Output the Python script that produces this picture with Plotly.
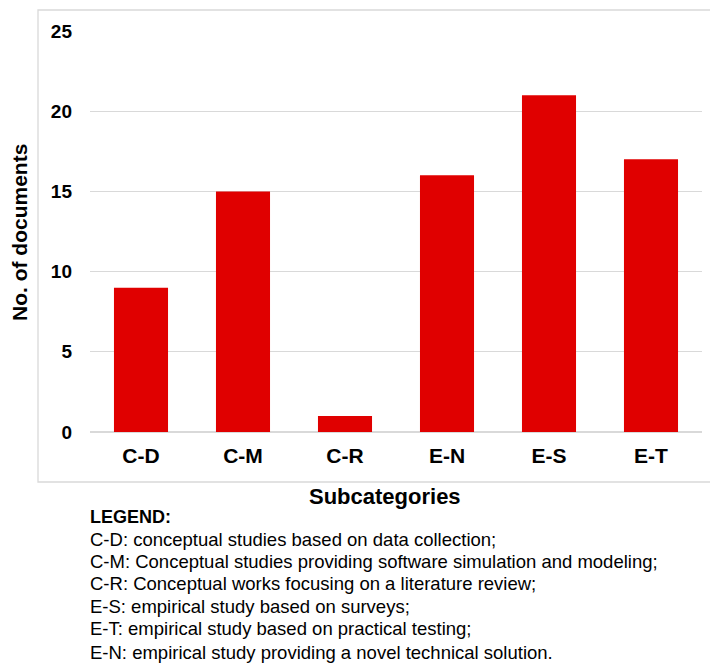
import plotly.graph_objects as go

categories = ["C-D", "C-M", "C-R", "E-N", "E-S", "E-T"]
documents = [9, 15, 1, 16, 21, 17]
y_ticks = [0, 5, 10, 15, 20, 25]
legend_title = "LEGEND:"
legend_lines = [
    "C-D: conceptual studies based on data collection;",
    "C-M: Conceptual studies providing software simulation and modeling;",
    "C-R: Conceptual works focusing on a literature review;",
    "E-S: empirical study based on surveys;",
    "E-T: empirical study based on practical testing;",
    "E-N: empirical study providing a novel technical solution.",
]

W, H = 710, 666
L, R, T, B = 90, 8, 31, 234
PW = W - L - R
PH = H - T - B

def px(x):
    return (x - L) / PW

def py(y):
    return (H - B - y) / PH

FONT = "Liberation Sans, Arial, sans-serif"

fig = go.Figure(
    go.Bar(
        x=categories,
        y=documents,
        marker=dict(color="#e00000", line=dict(width=0)),
        width=0.53,
    )
)

fig.update_layout(
    width=W,
    height=H,
    margin=dict(l=L, r=R, t=T, b=B),
    paper_bgcolor="white",
    plot_bgcolor="white",
    showlegend=False,
    font=dict(family=FONT, color="black"),
)

fig.update_xaxes(
    showline=False,
    showgrid=False,
    ticks="",
    tickfont=dict(size=21, family=FONT, color="black", weight="bold"),
    ticklabelstandoff=9,
)
fig.update_yaxes(
    range=[0, 25],
    tickvals=y_ticks,
    showgrid=True,
    gridcolor="#d9d9d9",
    gridwidth=1.3,
    zeroline=True,
    zerolinecolor="#d9d9d9",
    zerolinewidth=1.5,
    showline=False,
    ticks="",
    tickfont=dict(size=19, family=FONT, color="black", weight="bold"),
    ticklabelstandoff=17,
)

# chart border box
fig.add_shape(
    type="rect", xref="paper", yref="paper",
    x0=px(38), x1=px(715), y0=py(482), y1=py(10),
    line=dict(color="#d9d9d9", width=1.3), fillcolor="rgba(0,0,0,0)",
    layer="below",
)

annotations = [
    dict(text="<b>No. of documents</b>", x=px(20), y=py(233), textangle=-90,
         font=dict(size=21, family=FONT, color="black")),
    dict(text="<b>Subcategories</b>", x=px(385), y=py(496),
         font=dict(size=22, family=FONT, color="black")),
    dict(text="<b>" + legend_title + "</b>", x=px(88), y=py(517), xanchor="left",
         font=dict(size=18, family=FONT, color="black")),
]
legend_y = [539, 561, 583, 606, 628, 652]
for line, yy in zip(legend_lines, legend_y):
    annotations.append(dict(text=line, x=px(88), y=py(yy), xanchor="left",
                            font=dict(size=18.5, family=FONT, color="black")))
for a in annotations:
    a.update(xref="paper", yref="paper", showarrow=False)
    a.setdefault("xanchor", "center")
    a.setdefault("yanchor", "middle")
fig.update_layout(annotations=annotations)

fig.write_html("out.html", config={"displayModeBar": False},
               post_script="document.body.style.margin='0';")
